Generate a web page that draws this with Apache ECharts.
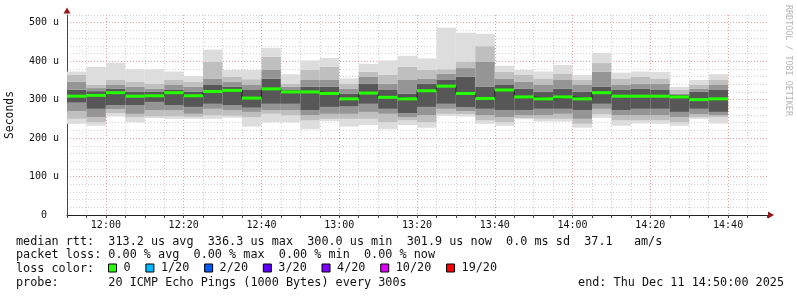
<!DOCTYPE html>
<html>
<head>
<meta charset="utf-8">
<script src="https://cdn.jsdelivr.net/npm/echarts@6/dist/echarts.min.js"></script>
<style>html,body{margin:0;padding:0;background:#fff}#c{width:797px;height:297px}</style>
</head>
<body>
<div id="c"></div>
<script>
// bar start times (5-minute steps)
var times = ['11:50','11:55','12:00','12:05','12:10','12:15','12:20','12:25','12:30','12:35',
             '12:40','12:45','12:50','12:55','13:00','13:05','13:10','13:15','13:20','13:25',
             '13:30','13:35','13:40','13:45','13:50','13:55','14:00','14:05','14:10','14:15',
             '14:20','14:25','14:30','14:35'];
// sorted ping RTT bands (microseconds), from lowest to highest
var rttMin   = [237,232,256,241,252,250,250,250,253,230,241,241,223,244,230,234,223,234,227,258,256,237,232,249,243,243,227,253,232,238,237,232,250,238];
var rttLow1  = [250,241,265,254,256,256,255,259,258,254,263,259,246,250,250,250,241,246,241,263,262,246,241,252,250,250,237,262,246,246,246,241,254,254];
var rttLow2  = [270,254,275,263,272,272,263,276,272,268,272,272,259,263,263,268,263,254,259,276,270,259,254,259,259,263,250,276,259,259,259,254,262,259];
var rttLow3  = [292,276,285,285,294,285,281,289,285,279,289,289,272,281,282,289,276,265,281,289,280,276,272,272,276,276,272,289,272,276,276,268,276,268];
var rttMedian= [309,311,318,309,310,318,310,321,324,304,328,320,320,316,302,317,306,302,323,335,316,303,325,307,302,307,302,318,309,309,309,307,300,302];
var rttHigh3 = [326,322,329,320,320,325,320,338,333,325,355,325,333,333,316,342,325,316,342,351,360,333,338,329,320,329,320,333,325,329,325,312,320,325];
var rttHigh2 = [346,330,338,333,329,338,333,355,346,338,377,333,351,351,329,360,342,351,355,368,382,399,355,346,338,351,338,373,338,342,342,316,329,338];
var rttHigh1 = [364,339,351,346,342,351,346,399,360,353,412,342,377,386,342,373,364,386,377,379,399,439,373,364,355,368,351,395,355,360,355,325,338,351];
var rttMax   = [373,385,396,379,379,373,361,430,377,377,434,366,402,408,355,393,402,414,407,487,474,471,388,377,373,390,364,421,370,373,372,333,351,366];

var xTickLabels = ['12:00','12:20','12:40','13:00','13:20','13:40','14:00','14:20','14:40'];
var yTickLabels = ['0  ','100 u','200 u','300 u','400 u','500 u'];
var lossLabels = ['0','1/20','2/20','3/20','4/20','10/20','19/20'];
var lossColors = ['#26ff00','#00b8ff','#0059ff','#5e00ff','#7e00ff','#dd00ff','#ff0000'];
var statRows = [
  'median rtt:  313.2 us avg  336.3 us max  300.0 us min  301.9 us now  0.0 ms sd  37.1   am/s',
  'packet loss: 0.00 % avg  0.00 % max  0.00 % min  0.00 % now',
  'loss color:',
  'probe:       20 ICMP Echo Pings (1000 Bytes) every 300s'
];
var endText = 'end: Thu Dec 11 14:50:00 2025';
var watermark = 'RRDTOOL / TOBI OETIKER';
var yName = 'Seconds';

function toMin(s){ var p = s.split(':'); return (+p[0])*60 + (+p[1]); }
var STEP = 5;
var smokeData = times.map(function(t,i){
  return [toMin(t), rttMin[i], rttLow1[i], rttLow2[i], rttLow3[i], rttMedian[i], rttHigh3[i], rttHigh2[i], rttHigh1[i], rttMax[i]];
});
var medData = times.map(function(t,i){ return [toMin(t), rttMedian[i]]; });
var medStep = medData.concat([[toMin(times[times.length-1]) + STEP, rttMedian[rttMedian.length-1]]]);

var bandColors = ['#dddddd','#bfbfbf','#959595','#575757','#575757','#959595','#bfbfbf','#dddddd'];
var MONO = '"DejaVu Sans Mono", monospace';

var chart = echarts.init(document.getElementById('c'), null, {renderer:'canvas'});

var series = [
  {
    type:'custom', name:'smoke', z:1, silent:true,
    data: smokeData,
    encode:{x:0, y:[1,9]},
    renderItem: function(params, api){
      var t0 = api.value(0), t1 = t0 + STEP;
      var kids = [];
      for (var k = 0; k < 8; k++) {
        var lo = api.value(1+k), hi = api.value(2+k);
        var pTop = api.coord([t0, hi]);
        var pBot = api.coord([t1, lo]);
        kids.push({type:'rect', shape:{x:pTop[0], y:pTop[1], width:pBot[0]-pTop[0], height:pBot[1]-pTop[1]},
                   style:{fill:bandColors[k]}});
      }
      return {type:'group', children:kids};
    }
  },
  {
    type:'line', name:'medianStep', z:2, silent:true, step:'end', symbol:'none',
    data: medStep, lineStyle:{color:'#202020', width:1}
  },
  {
    type:'custom', name:lossLabels[0], z:3, silent:true,
    data: medData, encode:{x:0, y:1},
    itemStyle:{color:lossColors[0]},
    renderItem: function(params, api){
      var t0 = api.value(0);
      var p0 = api.coord([t0, api.value(1)]);
      var p1 = api.coord([t0 + STEP, api.value(1)]);
      return {type:'rect', shape:{x:p0[0], y:p0[1]-1.5, width:p1[0]-p0[0], height:3}, style:{fill:lossColors[0]}};
    }
  }
];
for (var i = 1; i < lossLabels.length; i++) {
  series.push({type:'line', name:lossLabels[i], data:[], color:lossColors[i], itemStyle:{color:lossColors[i]}});
}

var gridMinor = '#d2d2d2', gridMajor = '#eaa0a0';

var option = {
  backgroundColor:'#ffffff',
  animation:false,
  grid:{left:67, right:30, top:15, bottom:82, containLabel:false, outerBoundsMode:'none'},
  xAxis:{
    type:'value', min:toMin('11:50'), max:toMin('14:50'), interval:5,
    axisLine:{show:true, onZero:false, lineStyle:{color:'#222', width:1}},
    axisTick:{show:true, length:3, lineStyle:{color:'#444'}},
    axisLabel:{margin:5, color:'#111', fontFamily:MONO, fontSize:10,
      formatter:function(v){ var d = v - toMin('12:00'); return (d >= 0 && d % 20 === 0) ? (xTickLabels[d/20] || '') : ''; }},
    splitLine:{show:true, showMinLine:true, showMaxLine:false,
      lineStyle:{color:[gridMinor, gridMinor, gridMajor, gridMinor], type:[1,2], width:1}}
  },
  yAxis:{
    type:'value', min:0, max:520, interval:20,
    name:yName, nameLocation:'middle', nameGap:51,
    nameTextStyle:{fontFamily:MONO, fontSize:11.4, color:'#111'},
    axisLine:{show:true, lineStyle:{color:'#444', width:1}},
    axisTick:{show:false},
    axisLabel:{margin:8, color:'#111', fontFamily:MONO, fontSize:10,
      formatter:function(v){ return (v % 100 === 0) ? (yTickLabels[v/100] || '') : ''; }},
    splitLine:{show:true, showMinLine:true, showMaxLine:true,
      lineStyle:{color:[gridMajor, gridMinor, gridMinor, gridMinor, gridMinor], type:[1,2], width:1}}
  },
  legend:{
    show:true, selectedMode:false, left:108, top:262, orient:'horizontal',
    itemWidth:8, itemHeight:8, itemGap:14.8, padding:0,
    textStyle:{fontFamily:MONO, fontSize:11.8, color:'#111', padding:[0,0,0,2]},
    data: lossLabels.map(function(n,i){
      return {name:n, icon:'rect', itemStyle:{color:lossColors[i], borderColor:'#000', borderWidth:1}};
    })
  },
  graphic:[
    {type:'polygon', silent:true, shape:{points:[[63.5,13.5],[70.5,13.5],[67,7.5]]}, style:{fill:'#8e1a1a'}},
    {type:'polygon', silent:true, shape:{points:[[768,211.5],[768,218.5],[774,215]]}, style:{fill:'#8e1a1a'}},
    {type:'text', silent:true, x:788.5, y:5, rotation:-Math.PI/2,
      style:{text:watermark, fill:'#b5b5b5', font:'8.4px ' + MONO, align:'left', verticalAlign:'middle'}},
    {type:'text', silent:true, style:{x:16, y:241.7, text:statRows[0], fill:'#111', font:'11.8px ' + MONO, verticalAlign:'middle'}},
    {type:'text', silent:true, style:{x:16, y:255.3, text:statRows[1], fill:'#111', font:'11.8px ' + MONO, verticalAlign:'middle'}},
    {type:'text', silent:true, style:{x:16, y:269, text:statRows[2], fill:'#111', font:'11.8px ' + MONO, verticalAlign:'middle'}},
    {type:'text', silent:true, style:{x:16, y:282.7, text:statRows[3], fill:'#111', font:'11.8px ' + MONO, verticalAlign:'middle'}},
    {type:'text', silent:true, style:{x:784, y:282.7, text:endText, fill:'#111', font:'11.8px ' + MONO, align:'right', verticalAlign:'middle'}}
  ],
  series: series
};
chart.setOption(option);
</script>
</body>
</html>
